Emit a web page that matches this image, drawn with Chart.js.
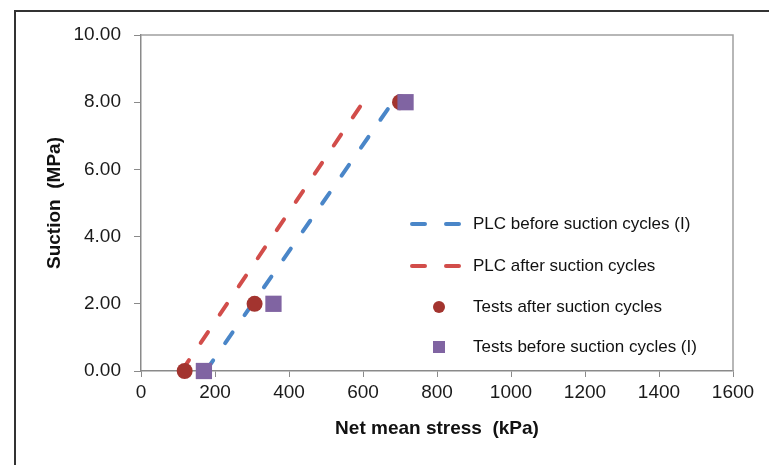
<!DOCTYPE html>
<html>
<head>
<meta charset="utf-8">
<script src="https://cdn.jsdelivr.net/npm/chart.js@4.4.0/dist/chart.umd.min.js"></script>
<style>
  html, body { margin: 0; padding: 0; background: #fff; }
  #wrap { width: 769px; height: 465px; position: relative; }
</style>
</head>
<body>
<div id="wrap"><canvas id="myChart" width="769" height="465"></canvas></div>
<script>
// values
var plcBeforeX = [175, 680];
var plcBeforeY = [0, 8];
var plcAfterX = [110, 600];
var plcAfterY = [0, 8];
var testsAfterX = [118, 307, 700];
var testsAfterY = [0, 2, 8];
var testsBeforeX = [170, 358, 715];
var testsBeforeY = [0, 2, 8];

var xTicks = [0, 200, 400, 600, 800, 1000, 1200, 1400, 1600];
var yTicks = [0, 2, 4, 6, 8, 10];

var seriesNames = [
    'PLC before suction cycles (I)',
    'PLC after suction cycles',
    'Tests after suction cycles',
    'Tests before suction cycles (I)'
];

function toPoints(xs, ys) {
    var arr = [];
    for (var i = 0; i < xs.length; i++) {
        arr.push({ x: xs[i], y: ys[i] });
    }
    return arr;
}

var tickFont = { family: 'Liberation Sans, Arial, sans-serif', size: 19 };
var titleFont = { family: 'Liberation Sans, Arial, sans-serif', size: 19, weight: 'bold' };

// outer frame + plot box
var framePlugin = {
    id: 'frame',
    beforeDraw: function (chart) {
        var ctx = chart.ctx;
        ctx.save();
        ctx.strokeStyle = '#333';
        ctx.lineWidth = 2;
        ctx.beginPath();
        ctx.moveTo(15, 465);
        ctx.lineTo(15, 11);
        ctx.lineTo(769, 11);
        ctx.stroke();
        ctx.restore();
    },
    beforeDatasetsDraw: function (chart) {
        var a = chart.chartArea;
        var ctx = chart.ctx;
        ctx.save();
        ctx.strokeStyle = '#a0a0a0';
        ctx.lineWidth = 1.5;
        ctx.beginPath();
        ctx.moveTo(a.left, a.top);
        ctx.lineTo(a.right, a.top);
        ctx.lineTo(a.right, a.bottom);
        ctx.stroke();
        ctx.restore();
    }
};

// legend drawn inside the plot
var legendPlugin = {
    id: 'boxLegend',
    afterDraw: function (chart) {
        var ctx = chart.ctx;
        var rows = [224, 266, 307, 347];
        ctx.save();
        ctx.font = '17px "Liberation Sans", Arial, sans-serif';
        ctx.textBaseline = 'middle';
        ctx.fillStyle = '#111';
        for (var i = 0; i < chart.data.datasets.length; i++) {
            var ds = chart.data.datasets[i];
            var y = rows[i];
            if (ds.showLine) {
                ctx.strokeStyle = ds.borderColor;
                ctx.lineWidth = ds.borderWidth;
                ctx.lineCap = 'round';
                ctx.setLineDash(ds.borderDash);
                ctx.beginPath();
                ctx.moveTo(412, y);
                ctx.lineTo(460, y);
                ctx.stroke();
                ctx.setLineDash([]);
            } else if (ds.pointStyle === 'circle') {
                ctx.fillStyle = ds.backgroundColor;
                ctx.beginPath();
                ctx.arc(439, y, 6, 0, Math.PI * 2);
                ctx.fill();
            } else {
                ctx.fillStyle = ds.backgroundColor;
                ctx.fillRect(433, y - 6, 12, 12);
            }
            ctx.fillStyle = '#111';
            ctx.fillText(ds.label, 473, y);
        }
        ctx.restore();
    }
};

var ctx = document.getElementById('myChart').getContext('2d');

window.myChart = new Chart(ctx, {
    type: 'scatter',
    data: {
        datasets: [{
            label: seriesNames[0],
            data: toPoints(plcBeforeX, plcBeforeY),
            showLine: true,
            borderColor: '#4a86c8',
            borderWidth: 4,
            borderDash: [13, 21],
            borderCapStyle: 'round',
            pointRadius: 0,
            clip: false,
            order: 2
        }, {
            label: seriesNames[1],
            data: toPoints(plcAfterX, plcAfterY),
            showLine: true,
            borderColor: '#d24d4a',
            borderWidth: 4,
            borderDash: [13, 21],
            borderCapStyle: 'round',
            pointRadius: 0,
            clip: false,
            order: 2
        }, {
            label: seriesNames[2],
            data: toPoints(testsAfterX, testsAfterY),
            pointStyle: 'circle',
            pointRadius: 8,
            backgroundColor: '#a3342f',
            borderColor: '#a3342f',
            borderWidth: 0,
            clip: false,
            order: 1
        }, {
            label: seriesNames[3],
            data: toPoints(testsBeforeX, testsBeforeY),
            pointStyle: 'rect',
            pointRadius: 11.5,
            backgroundColor: '#8064a2',
            borderColor: '#8064a2',
            borderWidth: 0,
            clip: false,
            order: 0
        }]
    },
    options: {
        responsive: false,
        animation: false,
        layout: { padding: { left: 0, right: 36, top: 35, bottom: 0 } },
        plugins: {
            legend: { display: false },
            tooltip: { enabled: false }
        },
        scales: {
            x: {
                type: 'linear',
                min: 0,
                max: 1600,
                afterBuildTicks: function (scale) {
                    scale.ticks = xTicks.map(function (v) { return { value: v }; });
                },
                afterFit: function (scale) { scale.height = 94; },
                ticks: {
                    autoSkip: false,
                    maxRotation: 0,
                    padding: 4,
                    color: '#1a1a1a',
                    font: tickFont,
                    callback: function (v) { return String(v); }
                },
                grid: {
                    drawOnChartArea: false,
                    drawTicks: true,
                    tickLength: 6,
                    color: '#8a8a8a'
                },
                border: { color: '#8a8a8a', width: 1.5 },
                title: {
                    display: true,
                    text: 'Net mean stress  (kPa)',
                    color: '#111',
                    font: titleFont,
                    padding: { top: 0, bottom: 25 }
                }
            },
            y: {
                type: 'linear',
                min: 0,
                max: 10,
                afterBuildTicks: function (scale) {
                    scale.ticks = yTicks.map(function (v) { return { value: v }; });
                },
                afterFit: function (scale) { scale.width = 141; },
                ticks: {
                    padding: 13,
                    color: '#1a1a1a',
                    font: tickFont,
                    callback: function (v) { return Number(v).toFixed(2); }
                },
                grid: {
                    drawOnChartArea: false,
                    drawTicks: true,
                    tickLength: 7,
                    color: '#8a8a8a'
                },
                border: { color: '#8a8a8a', width: 1.5 },
                title: {
                    display: true,
                    text: 'Suction  (MPa)',
                    color: '#111',
                    font: titleFont,
                    padding: { top: 43, bottom: 0 }
                }
            }
        }
    },
    plugins: [framePlugin, legendPlugin]
});
</script>
</body>
</html>
